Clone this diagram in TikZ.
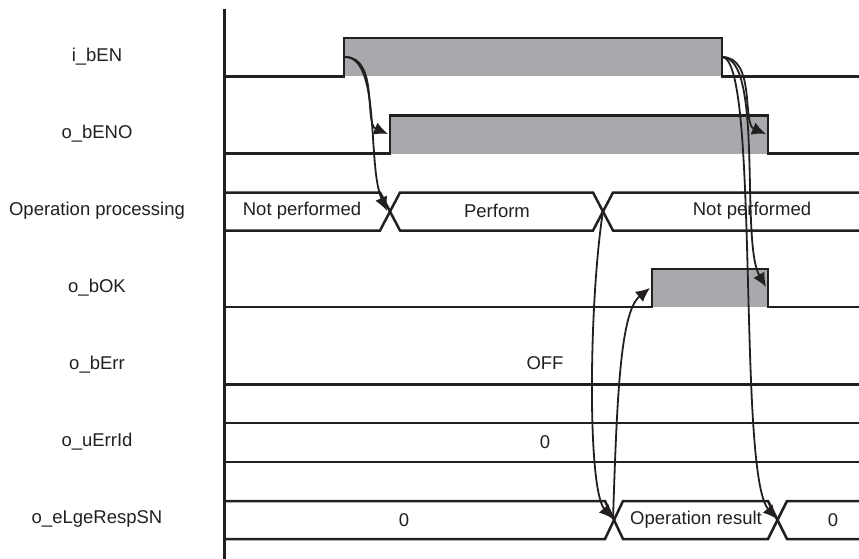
\documentclass[tikz,border=0pt]{standalone}
\usepackage{fontspec}
\setmainfont{Liberation Sans}
\usepackage{tikz}
\usetikzlibrary{arrows.meta, calc, positioning}
\definecolor{ink}{HTML}{231F20}
\definecolor{sigfill}{HTML}{A7A9AC}
\tikzstyle{signame} = [on grid, text=ink, font=\fontsize{18.5}{22}\selectfont]
\tikzstyle{busval} = [text=ink, font=\fontsize{18.5}{22}\selectfont]
\tikzstyle{wave} = [draw=ink, line width=2.5pt, line join=miter]
\tikzstyle{arrow} = [draw=ink, line width=1.8pt, -{Latex[length=14pt,width=13pt]}]

\begin{document}
\begin{tikzpicture}[x=1pt, y=-1pt, node distance = 77pt]
		\useasboundingbox (0,0) rectangle (859,559);
		% signal names
		\node (iEN) [signame] at (97,57) {i\_bEN};
		\node (oENO) [signame, below = of iEN] {o\_bENO};
		\node (OpProc) [signame, below = of oENO] {Operation processing};
		\node (oOK) [signame, below = of OpProc] {o\_bOK};
		\node (oErr) [signame, below = of oOK] {o\_bErr};
		\node (oErrId) [signame, below = of oErr] {o\_uErrId};
		\node (oRespSN) [signame, below = of oErrId] {o\_eLgeRespSN};
		% time axis
		\draw [ink, line width=3pt] (224,9) -- (224,559);
		% i_bEN
		\fill [sigfill] (344,38) rectangle (722,76.5);
		\draw [wave] (224,76.5) -| (344,38) -| (722,76.5) -- (859,76.5);
		% o_bENO
		\fill [sigfill] (390,115.5) rectangle (768,153.5);
		\draw [wave] (224,153.5) -| (390,115.5) -| (768,153.5) -- (859,153.5);
		% operation processing
		\draw [wave] (224,192.5) -- (380,192.5) -- (400,230.5) -- (593,230.5) -- (613,192.5) -- (859,192.5);
		\draw [wave] (224,230.5) -- (380,230.5) -- (400,192.5) -- (593,192.5) -- (613,230.5) -- (859,230.5);
		\node (NotPerf1) [busval] at (302,211) {Not performed};
		\node (Perf) [busval] at (497,211) {Perform};
		\node (NotPerf2) [busval] at (752,211) {Not performed};
		% o_bOK
		\fill [sigfill] (652,269) rectangle (768,307);
		\draw [wave] (224,307) -| (652,269) -| (768,307) -- (859,307);
		% o_bErr
		\draw [wave] (224,384.5) -- (859,384.5);
		\node (ErrOff) [busval] at (545,363) {OFF};
		% o_uErrId
		\draw [wave] (224,423) -- (859,423);
		\draw [wave] (224,462) -- (859,462);
		\node (ErrIdVal) [busval] at (545,442) {0};
		% o_eLgeRespSN
		\draw [wave] (224,501) -- (605,501) -- (623,539) -- (768,539) -- (787,501) -- (859,501);
		\draw [wave] (224,539) -- (605,539) -- (623,501) -- (768,501) -- (787,539) -- (859,539);
		\node (RespVal1) [busval] at (404,520) {0};
		\node (RespVal2) [busval] at (696,520) {Operation result};
		\node (RespVal3) [busval] at (833,520) {0};
		% edges
		\coordinate (ENup) at (345,57);
		\coordinate (ENdown) at (722,57);
		\coordinate (ENOup) at (388,134);
		\coordinate (ENOdown) at (766,134);
		\coordinate (OPx1) at (387,211);
		\coordinate (OPx2) at (603,211);
		\coordinate (OKup) at (650,288);
		\coordinate (OKdown) at (766,287);
		\coordinate (RSx1) at (613,519);
		\coordinate (RSx2) at (777,519);
		\draw [arrow] (ENup) .. controls +(34,0) and +(-24,-10) .. (ENOup);
		\draw [arrow] (ENup) .. controls +(36,0) and +(-20,-45) .. (OPx1);
		\draw [arrow] (ENdown) .. controls +(34,0) and +(-24,-10) .. (ENOdown);
		\draw [arrow] (ENdown) .. controls +(42,0) and +(-26,-45) .. (OKdown);
		\draw [arrow] (ENdown) .. controls +(38,0) and +(-40,-45) .. (RSx2);
		\draw [arrow] (OPx2) .. controls +(-14,90) and +(-26,-30) .. (RSx1);
		\draw [arrow] (RSx1) .. controls +(4,-120) and +(-30,24) .. (OKup);
\end{tikzpicture}
\end{document}
